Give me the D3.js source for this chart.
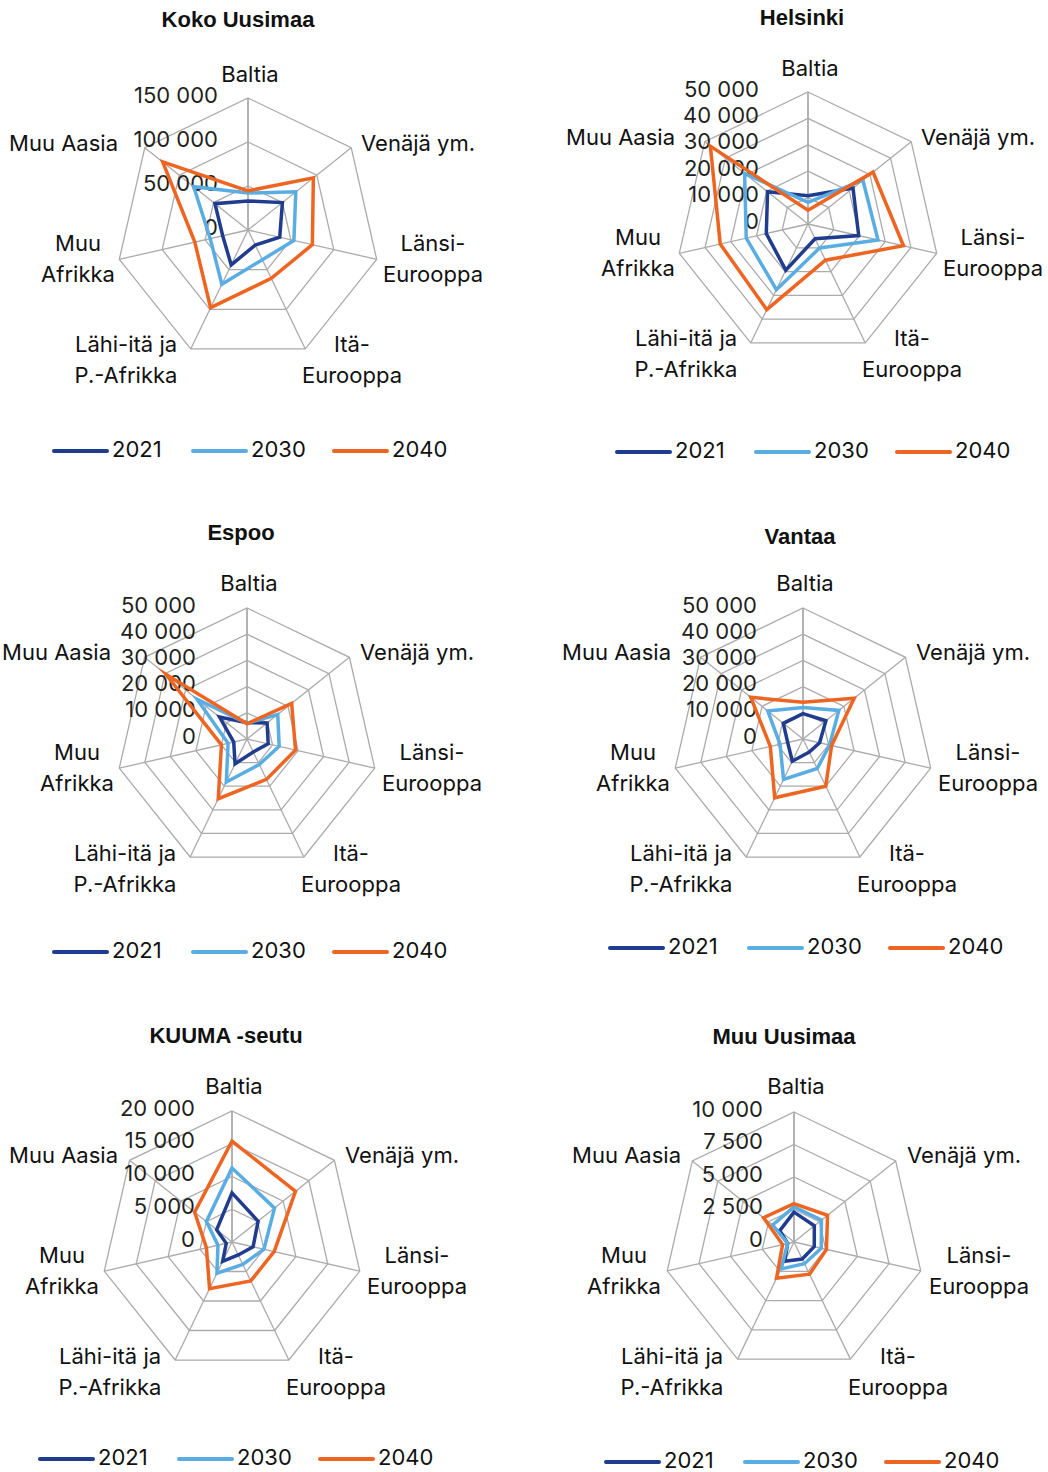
<!DOCTYPE html>
<html>
<head>
<meta charset="utf-8">
<script src="https://cdn.jsdelivr.net/npm/d3@7"></script>
<style>
  html, body { margin: 0; padding: 0; background: #fff; }
  svg { display: block; }
</style>
</head>
<body>
<svg id="chart" width="1048" height="1472"></svg>
<script>
// ---------------- DATA ----------------
const categories = ["Baltia", "Venäjä ym.", "Länsi-Eurooppa", "Itä-Eurooppa", "Lähi-itä ja P.-Afrikka", "Muu Afrikka", "Muu Aasia"];
const categoryLabelLines = [["Baltia"], ["Venäjä ym."], ["Länsi-", "Eurooppa"], ["Itä-", "Eurooppa"], ["Lähi-itä ja", "P.-Afrikka"], ["Muu", "Afrikka"], ["Muu Aasia"]];
const years = ["2021", "2030", "2040"];
const regionTitles = ["Koko Uusimaa", "Helsinki", "Espoo", "Vantaa", "KUUMA -seutu", "Muu Uusimaa"];

const kokoUusimaa2021 = [33000, 50000, 37000, 19000, 44000, 29500, 48000];
const kokoUusimaa2030 = [42000, 69500, 53500, 37500, 68500, 44000, 79000];
const kokoUusimaa2040 = [44500, 95000, 75000, 61000, 98000, 62000, 124000];

const helsinki2021 = [10700, 21800, 19700, 6200, 19400, 16200, 19600];
const helsinki2030 = [8200, 26600, 27200, 10100, 27600, 24000, 30700];
const helsinki2040 = [5200, 31500, 37100, 15200, 36000, 34100, 47300];

const espoo2021 = [6200, 9800, 8300, 5500, 10500, 5200, 13400];
const espoo2030 = [6000, 15000, 12600, 10800, 18200, 7400, 24400];
const espoo2040 = [5800, 21800, 19000, 17100, 25300, 10000, 39600];

const vantaa2021 = [9700, 11200, 6500, 5500, 9400, 6000, 9600];
const vantaa2030 = [12000, 17500, 10400, 12500, 17100, 9000, 17200];
const vantaa2040 = [14000, 25000, 11200, 20000, 24900, 12800, 25500];

const kuuma2021 = [7500, 5100, 3300, 2200, 3300, 900, 3000];
const kuuma2030 = [11300, 8300, 5000, 3800, 5300, 2200, 5000];
const kuuma2040 = [15400, 12400, 6600, 6600, 7900, 4000, 7300];

const muuUusimaa2021 = [2300, 2000, 1600, 1450, 1650, 500, 1400];
const muuUusimaa2030 = [2700, 2700, 2150, 1850, 2300, 500, 2100];
const muuUusimaa2040 = [2950, 3300, 2560, 2750, 3100, 900, 3000];

const ticksKoko = [0, 50000, 100000, 150000];
const ticks50k = [0, 10000, 20000, 30000, 40000, 50000];
const ticksKuuma = [0, 5000, 10000, 15000, 20000];
const ticksMuu = [0, 2500, 5000, 7500, 10000];

// ---------------- STYLE / LAYOUT ----------------
const seriesColors = ["#203C8F", "#5AADE2", "#EE6522"];
const textFont = "Inter, 'Noto Sans', sans-serif";
const titleFont = "'Liberation Sans', Arial, sans-serif";
const fontSize = 22;

const charts = [
  { title: regionTitles[0], series: [kokoUusimaa2021, kokoUusimaa2030, kokoUusimaa2040], ticks: ticksKoko,
    cx: 248, cy: 230, r: 132, tickRight: -30, tx: 238, ty: 21, lx: 54, ly: 451, aasiaX: -130 },
  { title: regionTitles[1], series: [helsinki2021, helsinki2030, helsinki2040], ticks: ticks50k,
    cx: 808, cy: 224, r: 132, tickRight: -49, tx: 802, ty: 19, lx: 617, ly: 452, aasiaX: -133 },
  { title: regionTitles[2], series: [espoo2021, espoo2030, espoo2040], ticks: ticks50k,
    cx: 247, cy: 739, r: 131, tickRight: -51, tx: 241, ty: 534, lx: 54, ly: 952, aasiaX: -136 },
  { title: regionTitles[3], series: [vantaa2021, vantaa2030, vantaa2040], ticks: ticks50k,
    cx: 803, cy: 739, r: 131, tickRight: -46, tx: 800, ty: 538, lx: 610, ly: 948, aasiaX: -132 },
  { title: regionTitles[4], series: [kuuma2021, kuuma2030, kuuma2040], ticks: ticksKuuma,
    cx: 232, cy: 1242, r: 131, tickRight: -37, tx: 226, ty: 1037, lx: 40, ly: 1459, aasiaX: -114 },
  { title: regionTitles[5], series: [muuUusimaa2021, muuUusimaa2030, muuUusimaa2040], ticks: ticksMuu,
    cx: 794, cy: 1242, r: 130, tickRight: -31, tx: 784, ty: 1038, lx: 606, ly: 1462, aasiaX: -113 }
];

// label placement relative to chart centre: [x, first-line y, anchor]
const labelPlacement = [
  [2, -154, "middle"],
  [113, -85, "start"],
  [185, 15, "middle"],
  [104, 116, "middle"],
  [-122, 116, "middle"],
  [-170, 15, "middle"],
  [null, -85, "end"]
];
const lineGap = 31;

const fiLocale = d3.formatLocale({ decimal: ",", thousands: "\u00a0", grouping: [3], currency: ["", " €"] });
const fmt = fiLocale.format(",");

const svg = d3.select("#chart");
const n = categories.length;
const angle = d3.scalePoint().domain(d3.range(n + 1)).range([0, 2 * Math.PI]);

charts.forEach(c => {
  const g = svg.append("g").attr("transform", `translate(${c.cx},${c.cy})`);
  const maxV = c.ticks[c.ticks.length - 1];
  const rScale = d3.scaleLinear().domain([0, maxV]).range([0, c.r]);

  // grid rings
  const ring = d3.lineRadial().angle((d, i) => angle(i)).radius(d => rScale(d)).curve(d3.curveLinearClosed);
  c.ticks.filter(t => t > 0).forEach(t => {
    g.append("path").attr("d", ring(d3.range(n).map(() => t)))
      .attr("fill", "none").attr("stroke", "#ABABAB").attr("stroke-width", 1.3);
  });
  // spokes
  categories.forEach((cat, i) => {
    const a = angle(i);
    g.append("line")
      .attr("x1", 0).attr("y1", 0)
      .attr("x2", rScale(maxV) * Math.sin(a)).attr("y2", -rScale(maxV) * Math.cos(a))
      .attr("stroke", "#ABABAB").attr("stroke-width", i === 0 ? 1.8 : 1.3);
  });

  // tick labels
  c.ticks.forEach(t => {
    g.append("text")
      .attr("x", c.tickRight).attr("y", -rScale(t) - 1.5)
      .attr("text-anchor", "end").attr("dominant-baseline", "middle")
      .attr("font-family", textFont).attr("font-size", fontSize).attr("fill", "#231F20")
      .text(fmt(t));
  });

  // series
  const line = d3.lineRadial().angle((d, i) => angle(i)).radius(d => rScale(d)).curve(d3.curveLinearClosed);
  c.series.forEach((vals, si) => {
    g.append("path").attr("d", line(vals))
      .attr("fill", "none").attr("stroke", seriesColors[si]).attr("stroke-width", 3.5)
      .attr("stroke-linejoin", "miter").attr("stroke-miterlimit", 6);
  });

  // category labels
  categoryLabelLines.forEach((lines, i) => {
    const [px, py, anchor] = labelPlacement[i];
    const x = px === null ? c.aasiaX : px;
    lines.forEach((ln, li) => {
      g.append("text")
        .attr("x", x).attr("y", py + li * lineGap)
        .attr("text-anchor", anchor).attr("dominant-baseline", "middle")
        .attr("font-family", textFont).attr("font-size", fontSize).attr("fill", "#111")
        .text(ln);
    });
  });

  // title
  svg.append("text")
    .attr("x", c.tx).attr("y", c.ty)
    .attr("text-anchor", "middle").attr("dominant-baseline", "middle")
    .attr("font-family", titleFont).attr("font-weight", "bold").attr("font-size", 22).attr("fill", "#111")
    .text(c.title);

  // legend
  const lg = svg.append("g").attr("transform", `translate(${c.lx},${c.ly})`);
  years.forEach((y, i) => {
    const ox = i * 139 + (i === 2 ? 2 : 0);
    lg.append("line").attr("x1", ox).attr("x2", ox + 53).attr("y1", 0).attr("y2", 0)
      .attr("stroke", seriesColors[i]).attr("stroke-width", 4).attr("stroke-linecap", "round");
    lg.append("text").attr("x", ox + 58).attr("y", 0)
      .attr("dominant-baseline", "middle")
      .attr("font-family", textFont).attr("font-size", fontSize).attr("fill", "#111")
      .text(y);
  });
});
</script>
</body>
</html>
